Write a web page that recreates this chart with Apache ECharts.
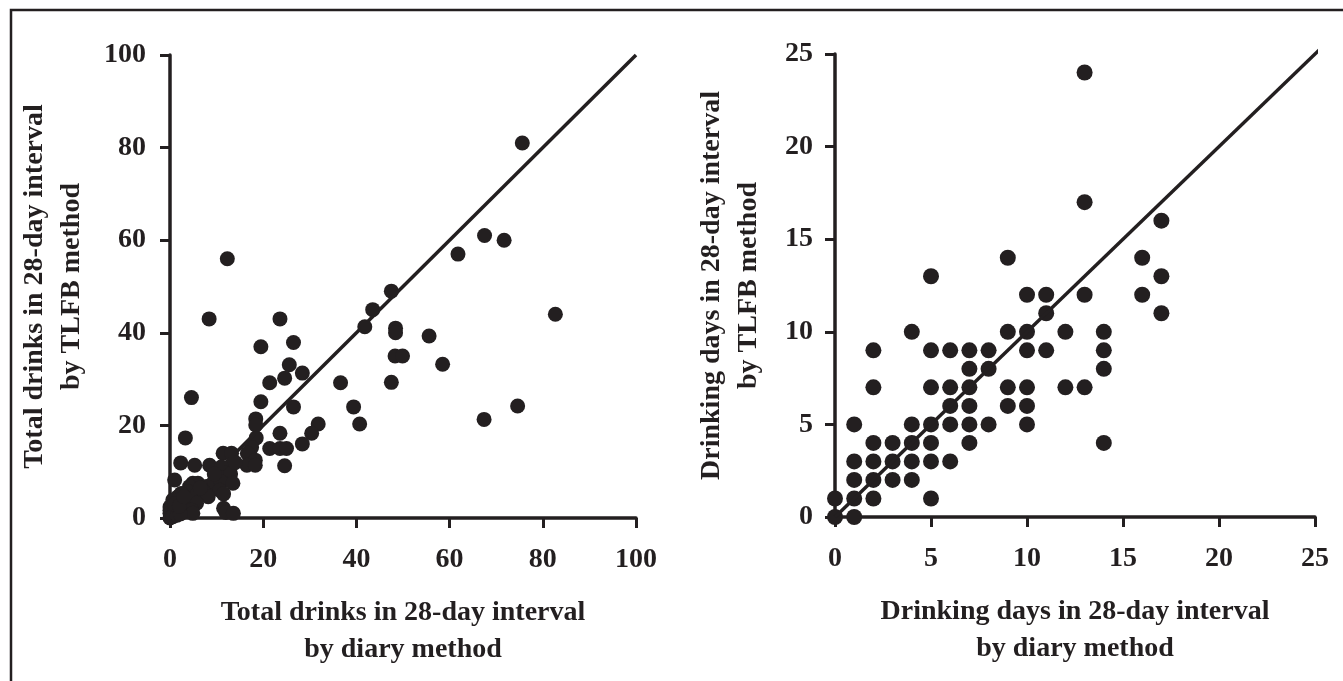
<!DOCTYPE html>
<html>
<head>
<meta charset="utf-8">
<script src="https://cdn.jsdelivr.net/npm/echarts@6/dist/echarts.min.js"></script>
<style>
  html, body { margin: 0; padding: 0; background: #fff; }
  #chart { width: 1343px; height: 681px; }
</style>
</head>
<body>
<div id="chart"></div>
<script>
// left panel: total drinks [diary, TLFB]
const totalDrinks = [
  [75.6, 81], [82.7, 44], [71.7, 60], [67.5, 61], [61.8, 57], [12.3, 56], [47.5, 49], [43.5, 45],
  [41.8, 41.3], [8.4, 43], [23.6, 43], [48.4, 41], [48.4, 40], [55.6, 39.3], [48.3, 35], [49.9, 35],
  [58.5, 33.2], [47.5, 29.3], [74.6, 24.2], [67.4, 21.3],
  [19.5, 37], [26.5, 37.9], [25.6, 33.1], [28.4, 31.3], [21.4, 29.2], [24.6, 30.2], [36.6, 29.2],
  [19.5, 25.1], [26.5, 24], [39.4, 24], [18.4, 21.4], [18.4, 20.1], [31.8, 20.3], [30.4, 18.3],
  [40.7, 20.3], [23.6, 18.3], [18.5, 17.3], [28.4, 16], [21.4, 15], [23.6, 15], [25, 15],
  [17.5, 15.2], [16.6, 14], [4.6, 26], [3.3, 17.3],
  [11.4, 14], [13.2, 14], [24.6, 11.3], [18.3, 12.5], [16.5, 11.4], [18.3, 11.4], [2.3, 11.9],
  [5.3, 11.4], [8.5, 11.4], [11, 11], [13.2, 11.4], [12, 9.8], [11, 8.7], [13, 9.5],
  [1, 8.2], [4.9, 7.5], [6, 7.5], [4.2, 6.8], [3.9, 5.7], [7.8, 6.8], [8.5, 6], [9.6, 7.8],
  [11, 7.8], [10.7, 6], [13.5, 7.5], [11.5, 5.2], [2.4, 5.3], [1.7, 4.6], [0.6, 3.9], [7.1, 5.7],
  [5.7, 5], [8.2, 4.6], [3.2, 3.9], [4.6, 3.5], [5.7, 3.2], [0, 2.4], [0, 1.7], [0, 1], [1, 1.4],
  [2.1, 1.7], [3.2, 2.1], [4.6, 1.7], [4.9, 1], [11.5, 2.1], [12, 1.2], [13.6, 1], [0, 0],
  [0.6, 0.3], [1.5, 0.6], [2.2, 0.9], [1, 3], [2, 2.6], [3, 4.6], [6.5, 6.5], [9.5, 9.5], [14, 12]
];

// right panel: drinking days [diary, TLFB]
const drinkingDays = [
  [0, 1], [0, 0],
  [1, 5], [1, 3], [1, 2], [1, 1], [1, 0],
  [2, 9], [2, 7], [2, 4], [2, 3], [2, 2], [2, 1],
  [3, 4], [3, 3], [3, 2],
  [4, 10], [4, 5], [4, 4], [4, 3], [4, 2],
  [5, 13], [5, 9], [5, 7], [5, 5], [5, 4], [5, 3], [5, 1],
  [6, 9], [6, 7], [6, 6], [6, 5], [6, 3],
  [7, 9], [7, 8], [7, 7], [7, 6], [7, 5], [7, 4],
  [8, 9], [8, 8], [8, 5],
  [9, 14], [9, 10], [9, 7], [9, 6],
  [10, 12], [10, 10], [10, 9], [10, 7], [10, 6], [10, 5],
  [11, 12], [11, 11], [11, 9],
  [12, 10], [12, 7],
  [13, 24], [13, 17], [13, 12], [13, 7],
  [14, 10], [14, 9], [14, 8], [14, 4],
  [16, 14], [16, 12],
  [17, 16], [17, 13], [17, 11]
];

// identity lines
const totalLine = [[0, 0], [100, 100]];
const daysLine = [[0, 0], [25.3, 25.3]];

const ink = '#231f20';
const font = { fontFamily: 'Liberation Serif', fontWeight: 'bold', color: ink };

function axis(max, interval, name, isY) {
  return {
    type: 'value',
    min: 0,
    max: max,
    interval: interval,
    name: name,
    nameLocation: 'middle',
    nameGap: isY ? 80 : 76,
    nameRotate: isY ? 90 : 0,
    nameTextStyle: Object.assign({ fontSize: 28, lineHeight: 37 }, font),
    axisLine: { show: true, lineStyle: { color: ink, width: 3.5 } },
    axisTick: { show: true, length: 10, lineStyle: { color: ink, width: 3 } },
    splitLine: { show: false },
    axisLabel: Object.assign({ fontSize: 28, margin: isY ? 24 : 28 }, font)
  };
}

const chart = echarts.init(document.getElementById('chart'));
const rightY = axis(25, 5, 'Drinking days in 28-day interval\nby TLFB method', true);
rightY.nameGap = 68;
rightY.axisLabel.margin = 22;

const option = {
  backgroundColor: '#fff',
  animation: false,
  graphic: [{
    type: 'polyline',
    shape: { points: [[11, 681], [11, 10], [1343, 10]] },
    style: { stroke: ink, lineWidth: 2.5, fill: null }
  }],
  grid: [
    { left: 170, top: 55, width: 466, height: 463 },
    { left: 835, top: 54, width: 480, height: 463 }
  ],
  xAxis: [
    Object.assign(axis(100, 20, 'Total drinks in 28-day interval\nby diary method', false), { gridIndex: 0 }),
    Object.assign(axis(25, 5, 'Drinking days in 28-day interval\nby diary method', false), { gridIndex: 1 })
  ],
  yAxis: [
    Object.assign(axis(100, 20, 'Total drinks in 28-day interval\nby TLFB method', true), { gridIndex: 0 }),
    Object.assign(rightY, { gridIndex: 1 })
  ],
  series: [
    {
      type: 'line', xAxisIndex: 0, yAxisIndex: 0, data: totalLine,
      showSymbol: false, clip: false, lineStyle: { color: ink, width: 3.5 }
    },
    {
      type: 'scatter', xAxisIndex: 0, yAxisIndex: 0, data: totalDrinks,
      symbolSize: 15, clip: false, itemStyle: { color: ink, opacity: 1 }
    },
    {
      type: 'line', xAxisIndex: 1, yAxisIndex: 1, data: daysLine,
      showSymbol: false, clip: false, lineStyle: { color: ink, width: 3.5 }
    },
    {
      type: 'scatter', xAxisIndex: 1, yAxisIndex: 1, data: drinkingDays,
      symbolSize: 16, clip: false, itemStyle: { color: ink, opacity: 1 }
    }
  ]
};
chart.setOption(option);
</script>
</body>
</html>
